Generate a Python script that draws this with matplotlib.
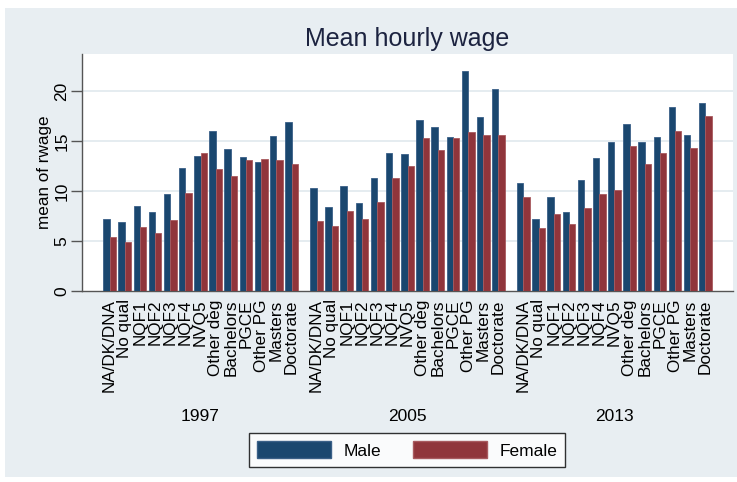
import matplotlib
matplotlib.use("Agg")
import matplotlib.pyplot as plt
import matplotlib.patches as mpatches
from matplotlib.transforms import blended_transform_factory
import numpy as np

plt.rcParams['font.family'] = ['Liberation Sans', 'DejaVu Sans']

years = ["1997", "2005", "2013"]
categories = ["NA/DK/DNA", "No qual", "NQF1", "NQF2", "NQF3", "NQF4", "NVQ5",
              "Other deg", "Bachelors", "PGCE", "Other PG", "Masters", "Doctorate"]
male_1997 = [7.17, 6.87, 8.5, 7.87, 9.7, 12.3, 13.53, 15.97, 14.17, 13.37, 12.87, 15.53, 16.9]
female_1997 = [5.43, 4.9, 6.37, 5.77, 7.07, 9.83, 13.77, 12.2, 11.47, 13.07, 13.2, 13.1, 12.67]
male_2005 = [10.33, 8.43, 10.53, 8.83, 11.3, 13.77, 13.7, 17.1, 16.37, 15.4, 21.97, 17.37, 20.2]
female_2005 = [7.0, 6.47, 7.97, 7.23, 8.93, 11.3, 12.53, 15.33, 14.07, 15.27, 15.87, 15.63, 15.57]
male_2013 = [10.8, 7.23, 9.43, 7.9, 11.07, 13.27, 14.93, 16.73, 14.87, 15.4, 18.37, 15.63, 18.8]
female_2013 = [9.43, 6.27, 7.7, 6.73, 8.3, 9.73, 10.1, 14.53, 12.73, 13.77, 15.97, 14.33, 17.53]

male = [male_1997, male_2005, male_2013]
female = [female_1997, female_2005, female_2013]

male_color = "#1a476f"
female_color = "#90353b"
bg_color = "#e8eef2"
grid_color = "#e3eaef"

W, H = 737, 482
fig = plt.figure(figsize=(W / 100, H / 100), dpi=100)
fig.patch.set_facecolor("white")
# outer graph region
fig.add_artist(mpatches.Rectangle((5 / W, 1 - 477 / H), (W - 5) / W, (477 - 8) / H,
                                  transform=fig.transFigure, facecolor=bg_color,
                                  edgecolor="none", zorder=0))

ax = fig.add_axes([82 / W, 1 - 291 / H, (733 - 82) / W, (291 - 54) / H])
ax.set_facecolor("white")

n = len(categories)
gap = 0.65
bw = 0.423
xticks, xlabels, centers = [], [], []
for g in range(len(years)):
    base = g * (n + gap)
    pos = base + np.arange(n)
    ax.bar(pos - bw / 2, male[g], width=bw, color=male_color, edgecolor="#3a6088",
           linewidth=0.6, zorder=3)
    ax.bar(pos + bw / 2, female[g], width=bw, color=female_color, edgecolor="#a85a5f",
           linewidth=0.6, zorder=3)
    xticks.extend(pos)
    xlabels.extend(categories)
    centers.append(pos.mean())

last = (len(years) - 1) * (n + gap) + n - 1
ax.set_xlim(-1.82, last + 1.82)
ax.set_ylim(0, 23.7)

ax.set_yticks([0, 5, 10, 15, 20])
ax.set_yticklabels(["0", "5", "10", "15", "20"], rotation=90, va="center", fontsize=12.5)
ax.tick_params(axis="y", length=8, width=1, color="#555555", pad=1)
ax.set_xticks(xticks)
ax.set_xticklabels(xlabels, rotation=90, fontsize=12.3, va="top", ha="center")
ax.tick_params(axis="x", length=0, pad=6)

for v in [5, 10, 15, 20]:
    ax.axhline(v, color=grid_color, lw=1.3, zorder=1)

for s in ["top", "right"]:
    ax.spines[s].set_visible(False)
for s in ["left", "bottom"]:
    ax.spines[s].set_color("#555555")
    ax.spines[s].set_linewidth(1.0)

ax.set_ylabel("mean of rwage", fontsize=12.3, labelpad=2)
ax.set_title("Mean hourly wage", fontsize=18, color="#1c2340", pad=6)

trans = blended_transform_factory(ax.transData, ax.transAxes)
for c, y in zip(centers, years):
    ax.text(c, (291 - 417) / (291 - 54), y, transform=trans, ha="center", va="center",
            fontsize=12.5)

handles = [mpatches.Patch(facecolor=male_color, edgecolor="#3a6088", label="Male"),
           mpatches.Patch(facecolor=female_color, edgecolor="#a85a5f", label="Female")]
leg = fig.legend(handles=handles, loc="center", bbox_to_anchor=(407 / W, 1 - 450 / H),
                 ncol=2, fontsize=12.5, frameon=True, fancybox=False, handlelength=4.3,
                 handleheight=1.15, handletextpad=0.7, columnspacing=1.8,
                 borderpad=0.45, borderaxespad=0)
leg.get_frame().set_edgecolor("black")
leg.get_frame().set_linewidth(1.0)
leg.get_frame().set_facecolor("white")

fig.savefig("out.png", dpi=100, facecolor="white")
